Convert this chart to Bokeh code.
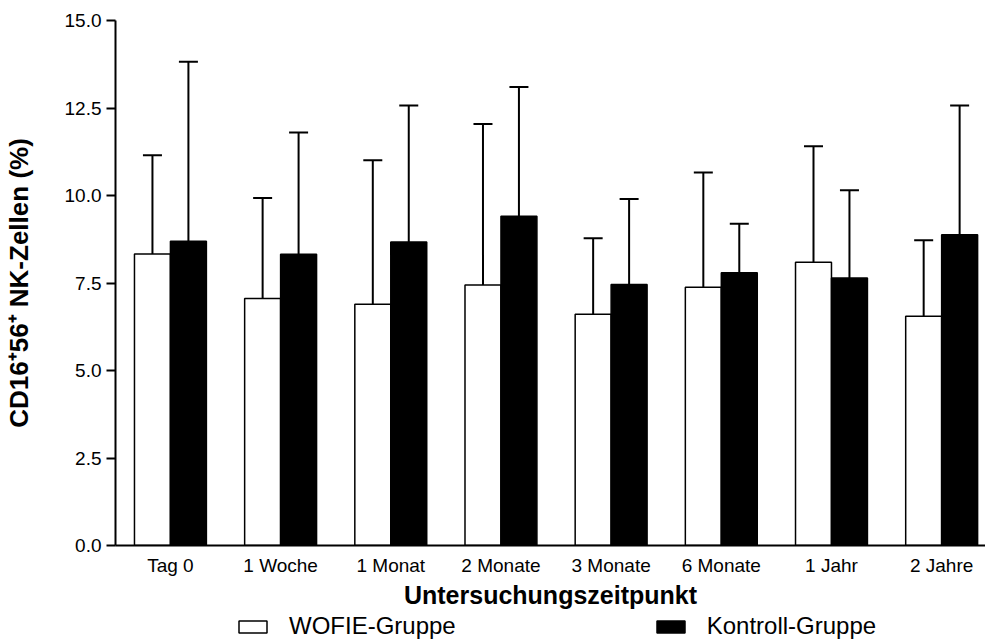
import numpy as np
from bokeh.plotting import figure
from bokeh.layouts import column
from bokeh.models import (ColumnDataSource, Range1d, FixedTicker, PrintfTickFormatter,
                          Whisker, TeeHead, Legend, LegendItem)
from bokeh.transform import dodge
from bokeh.embed import file_html
from bokeh.resources import INLINE

# ---- data ----
categories = ["Tag 0", "1 Woche", "1 Monat", "2 Monate", "3 Monate", "6 Monate", "1 Jahr", "2 Jahre"]
wofie_mean = [8.33, 7.06, 6.89, 7.44, 6.61, 7.38, 8.09, 6.55]
wofie_sd = [2.82, 2.87, 4.12, 4.60, 2.17, 3.28, 3.32, 2.17]
kontroll_mean = [8.69, 8.32, 8.67, 9.41, 7.46, 7.79, 7.64, 8.88]
kontroll_sd = [5.13, 3.48, 3.90, 3.69, 2.44, 1.40, 2.51, 3.69]
y_ticks = [0, 2.5, 5, 7.5, 10, 12.5, 15]
series_names = ["WOFIE-Gruppe", "Kontroll-Gruppe"]
y_title = "CD16\u207a56\u207a NK-Zellen (%)"
x_title = "Untersuchungszeitpunkt"

FONT = "Liberation Sans"
BW = 0.3264
W = 985

idx = list(range(len(categories)))
src = ColumnDataSource(dict(
    x=idx,
    w_mean=wofie_mean,
    w_up=list(np.array(wofie_mean) + np.array(wofie_sd)),
    k_mean=kontroll_mean,
    k_up=list(np.array(kontroll_mean) + np.array(kontroll_sd)),
))

p = figure(width=W, height=613,
           x_range=Range1d(-0.4986, 7.398), y_range=Range1d(0, 15),
           output_backend="svg", toolbar_location=None,
           min_border_left=114, min_border_right=0, min_border_top=20, min_border_bottom=68)
p.outline_line_color = None
p.xgrid.visible = False
p.ygrid.visible = False
p.background_fill_color = "white"
p.border_fill_color = "white"

bar_w = dict(fill_color="white", line_color="black", line_width=1.5)
bar_k = dict(fill_color="black", line_color="black", line_width=1.5)

r_w = p.vbar(x=dodge("x", -BW / 2, range=p.x_range), top="w_mean", bottom=0, width=BW,
             source=src, **bar_w)
r_k = p.vbar(x=dodge("x", BW / 2, range=p.x_range), top="k_mean", bottom=0, width=BW,
             source=src, **bar_k)

for off, lo, up in [(-BW / 2, "w_mean", "w_up"), (BW / 2, "k_mean", "k_up")]:
    wk = Whisker(base=dodge("x", off, range=p.x_range), lower=lo, upper=up, source=src,
                 dimension="height", line_color="black", line_width=2,
                 lower_head=None,
                 upper_head=TeeHead(size=19, line_color="black", line_width=2))
    p.add_layout(wk)

# y axis
ya = p.yaxis[0]
ya.ticker = FixedTicker(ticks=y_ticks)
ya.formatter = PrintfTickFormatter(format="%.1f")
ya.major_tick_out = 9
ya.major_tick_in = 0
ya.minor_tick_out = 0
ya.minor_tick_in = 0
ya.axis_line_width = 2
ya.major_tick_line_width = 2
ya.major_label_standoff = 5
ya.major_label_text_font = FONT
ya.major_label_text_font_size = "19px"
ya.major_label_text_color = "black"
ya.axis_label = y_title
ya.axis_label_text_font = FONT
ya.axis_label_text_font_style = "bold"
ya.axis_label_text_font_size = "26px"
ya.axis_label_text_color = "black"
ya.axis_label_standoff = 28

# x axis
xa = p.xaxis[0]
xa.ticker = FixedTicker(ticks=idx)
xa.major_label_overrides = {i: c for i, c in enumerate(categories)}
xa.major_tick_out = 0
xa.major_tick_in = 0
xa.minor_tick_out = 0
xa.minor_tick_in = 0
xa.axis_line_width = 2
xa.major_label_standoff = 9
xa.major_label_text_font = FONT
xa.major_label_text_font_size = "19px"
xa.major_label_text_color = "black"
xa.axis_label = x_title
xa.axis_label_text_font = FONT
xa.axis_label_text_font_style = "bold"
xa.axis_label_text_font_size = "25px"
xa.axis_label_text_color = "black"
xa.axis_label_standoff = 2

# legend strip below the chart; the proxy renderers hold only NaN, so they draw nothing
lg = figure(width=W, height=26, x_range=Range1d(0, 1), y_range=Range1d(0, 1),
            output_backend="svg", toolbar_location=None,
            x_axis_location=None, y_axis_location=None,
            min_border_left=114, min_border_right=0, min_border_top=0, min_border_bottom=0)
lg.outline_line_color = None
lg.xgrid.visible = False
lg.ygrid.visible = False
lg.border_fill_color = "white"
lg.background_fill_color = "white"
proxy = ColumnDataSource(dict(x=np.array([np.nan]), top=np.array([np.nan])))
d_w = lg.vbar(x="x", top="top", bottom=0, width=0.1, source=proxy, **bar_w)
d_k = lg.vbar(x="x", top="top", bottom=0, width=0.1, source=proxy, **bar_k)
legend = Legend(items=[LegendItem(label=series_names[0], renderers=[d_w]),
                       LegendItem(label=series_names[1], renderers=[d_k])],
                orientation="horizontal", location=(120, -1),
                glyph_width=35, glyph_height=15, label_standoff=19, spacing=197,
                padding=0, margin=0, border_line_color=None, background_fill_alpha=0,
                label_text_font=FONT, label_text_font_size="24px", label_text_color="black")
lg.add_layout(legend)

layout = column(p, lg, spacing=0)
open("out.html", "w").write(file_html(layout, INLINE))
